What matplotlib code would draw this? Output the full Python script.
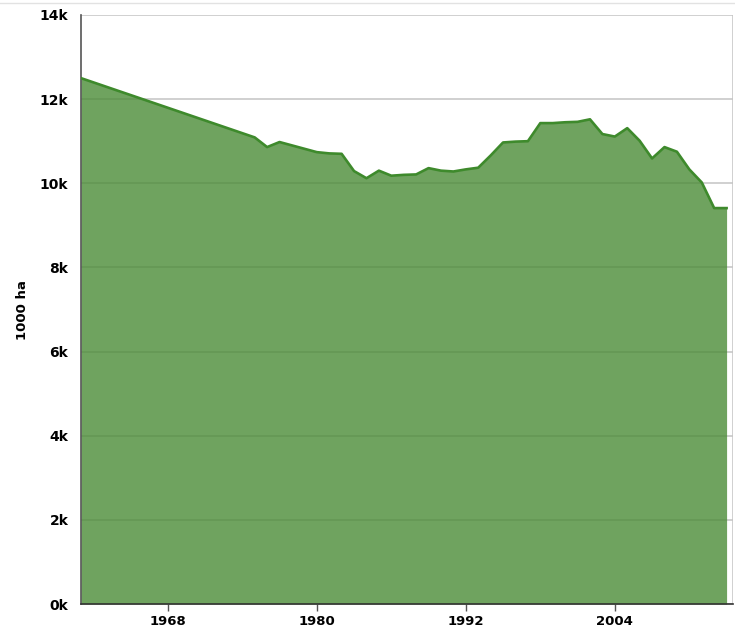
import numpy as np
import matplotlib
matplotlib.use("Agg")
import matplotlib.pyplot as plt
from matplotlib.lines import Line2D

# area harvested, thousand hectares
years = [1961, 1975, 1976, 1977, 1978, 1979, 1980, 1981, 1982, 1983, 1984,
         1985, 1986, 1987, 1988, 1989, 1990, 1991, 1992, 1993, 1994, 1995,
         1996, 1997, 1998, 1999, 2000, 2001, 2002, 2003, 2004, 2005, 2006,
         2007, 2008, 2009, 2010, 2011, 2012, 2013]
area_k = [12.50, 11.09, 10.86, 10.98, 10.90, 10.82, 10.74, 10.71, 10.70, 10.29,
          10.12, 10.30, 10.18, 10.20, 10.21, 10.36, 10.30, 10.28, 10.33, 10.37,
          10.66, 10.97, 10.99, 11.00, 11.43, 11.43, 11.45, 11.46, 11.52, 11.17,
          11.11, 11.31, 11.01, 10.59, 10.86, 10.75, 10.33, 10.02, 9.41, 9.41]

x_ticks = [1968, 1980, 1992, 2004]
y_ticks = [0, 2, 4, 6, 8, 10, 12, 14]
y_labels = ['%dk' % v for v in y_ticks]

x = np.array(years)
y = np.array(area_k) * 1000

fig = plt.figure(figsize=(7.35, 6.29), dpi=100)
ax = fig.add_axes([0.110, 0.0397, 0.887, 0.9365])

ax.set_xlim(1961, 2013.5)
ax.set_ylim(0, 14000)

ax.grid(axis='y', color='#c4c4c4', linewidth=1.1, zorder=0)
ax.set_axisbelow(True)

ax.fill_between(x, y, 0, color=(75/255, 140/255, 55/255), alpha=0.8,
                linewidth=0, zorder=2)
ax.plot(x, y, color='#3e8a2c', linewidth=1.9, zorder=3, solid_joinstyle='round')

ax.set_xticks(x_ticks)
ax.set_xticklabels([str(t) for t in x_ticks], fontsize=9.5, fontweight='bold')
ax.set_yticks([v * 1000 for v in y_ticks])
ax.set_yticklabels(y_labels, fontsize=10, fontweight='bold')

ax.tick_params(axis='x', length=5, width=1, color='#555555', pad=3)
ax.tick_params(axis='y', length=0, pad=9)

# axis title sits well left of the tick labels
fig.text(22 / 735, 0.507, '1000 ha', rotation=90, fontsize=9.5,
         fontweight='bold', ha='center', va='center')

for side in ['top', 'right']:
    ax.spines[side].set_visible(False)
ax.spines['left'].set_color('#555555')
ax.spines['bottom'].set_color('#333333')
ax.spines['left'].set_linewidth(1.2)
ax.spines['bottom'].set_linewidth(1.2)

# thin right edge of the plot area
ax.axvline(2013.5, color='#c4c4c4', linewidth=1.1, zorder=1)

# faint border line across the top of the figure
fig.add_artist(Line2D([0, 1], [0.996, 0.996], transform=fig.transFigure,
                      color='#e2e2e2', linewidth=1))

fig.savefig('out.png', dpi=100)
